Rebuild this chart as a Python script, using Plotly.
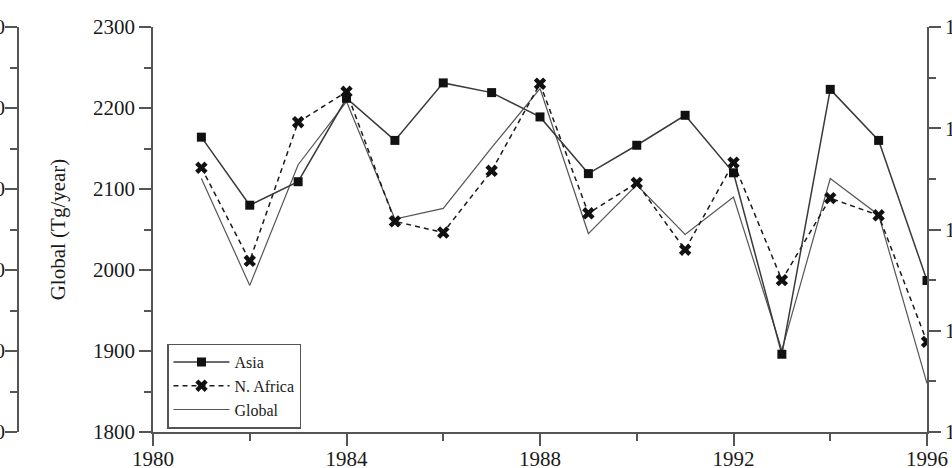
import plotly.graph_objects as go

years = list(range(1981, 1997))
# Asia read against the (cropped) outer left axis
asia = [664, 580, 609, 712, 660, 731, 719, 689, 619, 654, 691, 620, 396, 723, 660, 487]
# N. Africa read against the (cropped) right axis
n_africa = [146.1, 136.9, 150.6, 153.6, 140.8, 139.7, 145.8, 154.4, 141.6, 144.6, 138.0, 146.6, 135.0, 143.1, 141.4, 128.9]
# Global, read against the labelled inner left axis
global_em = [2113, 1981, 2130, 2208, 2063, 2076, 2151, 2224, 2045, 2105, 2044, 2090, 1901, 2113, 2068, 1860]

x_ticks = [1980, 1984, 1988, 1992, 1996]
y_main_ticks = [1800, 1900, 2000, 2100, 2200, 2300]
y_right_ticks = [120, 130, 140, 150, 160]
y_left_ticks = [300, 400, 500, 600, 700, 800]

FONT = "Liberation Serif, Times New Roman, Times, serif"
TXT = "#1a1a1a"
AX = "#555555"

fig = go.Figure()
fig.add_trace(go.Scatter(
    x=years, y=global_em, name="Global", mode="lines", yaxis="y",
    line=dict(color="#555555", width=1.2), legendrank=3,
))
fig.add_trace(go.Scatter(
    x=years, y=asia, name="Asia", mode="lines+markers", yaxis="y3",
    line=dict(color="#3a3a3a", width=1.5),
    marker=dict(symbol="square", size=9, color="#111111"), legendrank=1,
))
fig.add_trace(go.Scatter(
    x=years, y=n_africa, name="N. Africa", mode="lines+markers", yaxis="y2",
    line=dict(color="#1a1a1a", width=1.5, dash="5px,4px"),
    marker=dict(symbol="x", size=11, color="#111111"), legendrank=2,
))

L = 18
R = 25
T = 27
B = 36
W, H = 952, 468
pw = W - L - R

common_axis = dict(
    showline=True, linecolor=AX, linewidth=1.5, showgrid=False, zeroline=False,
    ticks="outside", ticklen=12, tickwidth=1.5, tickcolor=AX,
    tickfont=dict(family=FONT, size=21, color=TXT), automargin=False,
)

fig.update_layout(
    width=W, height=H,
    margin=dict(l=L, r=R, t=T, b=B, pad=0),
    paper_bgcolor="white", plot_bgcolor="white",
    font=dict(family=FONT, size=21, color=TXT),
    showlegend=True,
    legend=dict(
        x=(167 - L) / pw, y=(432 - 386) / (H - T - B),
        xanchor="left", yanchor="middle",
        bgcolor="white", bordercolor=AX, borderwidth=1.5,
        font=dict(family=FONT, size=16, color=TXT),
        tracegroupgap=0, itemwidth=56, traceorder="normal",
    ),
    xaxis=dict(
        **common_axis,
        domain=[(153 - L) / pw, 1],
        range=[1980, 1996], tickvals=x_ticks, ticktext=[str(v) for v in x_ticks],
        minor=dict(dtick=2, ticklen=7, tickcolor=AX, tickwidth=1.5, ticks="outside"),
        ticklabelstandoff=-5,
    ),
    yaxis=dict(
        **common_axis,
        range=[1800, 2300], tickvals=y_main_ticks, ticktext=[str(v) for v in y_main_ticks],
        minor=dict(dtick=50, ticklen=7, tickcolor=AX, tickwidth=1.5, ticks="outside"),
        title=dict(text="Global (Tg/year)", font=dict(family=FONT, size=21, color=TXT), standoff=22),
    ),
    yaxis2=dict(
        **common_axis,
        overlaying="y", side="right", anchor="x",
        range=[120, 160], tickvals=y_right_ticks, ticktext=[str(v) for v in y_right_ticks],
        minor=dict(dtick=5, ticklen=7, tickcolor=AX, tickwidth=1.5, ticks="outside"),
    ),
    yaxis3=dict(
        **common_axis,
        overlaying="y", side="left", anchor="free", position=0,
        range=[300, 800], tickvals=y_left_ticks, ticktext=[str(v) for v in y_left_ticks],
        minor=dict(dtick=50, ticklen=7, tickcolor=AX, tickwidth=1.5, ticks="outside"),
        ticklabelstandoff=-4,
    ),
)

fig.write_html("out.html")
